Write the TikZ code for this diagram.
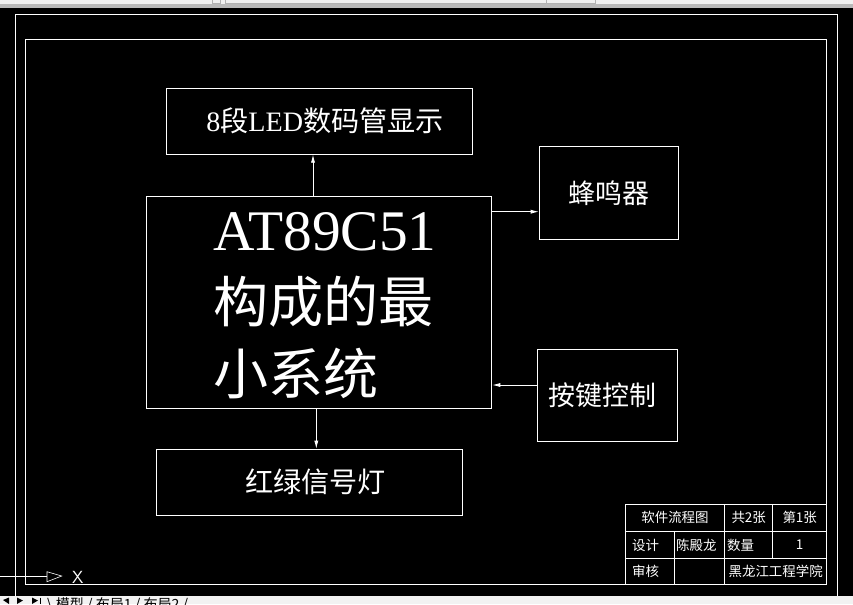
\documentclass[tikz,border=0pt]{standalone}
\usepackage{fontspec}
\setmainfont{Liberation Serif}
\newfontfamily\cjk{Noto Sans CJK SC}
\usetikzlibrary{arrows.meta,calc}
\newcommand\pxu{0.03cm}
\tikzset{
  cadline/.style={draw=white,line width=0.75pt},
  blockbox/.style={cadline,rectangle,inner sep=0pt,text=white,font=\fontsize{23}{27}\selectfont},
  arr/.style={white,line width=0.75pt,-{Latex[length=7pt,width=3.5pt]}},
  cell/.style={text=white,inner sep=0pt,font=\cjk\fontsize{11.5}{13}\selectfont}
}
\begin{document}
\begin{tikzpicture}[x=0.03cm,y=-0.03cm]
\useasboundingbox (0,0) rectangle (853,604);
\fill[black] (0,0) rectangle (853,604);
% drawing frames
\draw[cadline] (15.3,14.7) rectangle (837.3,600);
\draw[cadline] (25.5,39.4) rectangle (826.8,584.5);
% blocks
\node[blockbox,font=\fontsize{24}{27}\selectfont,minimum width=306*\pxu,minimum height=65.7*\pxu] (led) at (319.7,121.2) {\hspace*{9pt}8{\cjk 段}LED{\cjk 数码管显示}};
\node[blockbox,minimum width=345*\pxu,minimum height=212*\pxu] (main) at (319.2,302) {};
\node[text=white,anchor=base west,align=left,text width=260*\pxu,inner sep=0pt,font=\fontsize{47}{61.5}\selectfont] (mainlabel) at (213,250.7) {{\fontsize{49}{61.5}\selectfont AT89C51}\\{\cjk 构成的最}\\{\cjk 小系统}};
\node[blockbox,minimum width=139.4*\pxu,minimum height=93.3*\pxu] (buzz) at (609,192.7) {\cjk 蜂鸣器};
\node[blockbox,minimum width=140.4*\pxu,minimum height=91.7*\pxu] (keys) at (607.5,395.2) {\cjk 按键控制\hspace*{8pt}};
\node[blockbox,font=\fontsize{24}{27}\selectfont,minimum width=306*\pxu,minimum height=65.7*\pxu] (light) at (309.7,482.2) {\hspace*{10pt}\cjk 红绿信号灯};
% connectors
\coordinate (ledx) at (313,0);
\coordinate (buzzy) at (0,211.7);
\coordinate (keyy) at (0,385);
\coordinate (lightx) at (316.3,0);
\draw[arr] (main.north -| ledx) -- (led.south -| ledx);
\draw[arr] (main.east |- buzzy) -- (buzz.west |- buzzy);
\draw[arr] (keys.west |- keyy) -- (main.east |- keyy);
\draw[arr] (main.south -| lightx) -- (light.north -| lightx);
% title block
\draw[cadline] (625.3,584.5) -- (625.3,504.3) -- (826.8,504.3);
\draw[cadline] (625.3,531.3) -- (826.8,531.3) (625.3,558.6) -- (826.8,558.6);
\draw[cadline] (674,531.3) -- (674,584.5) (724.7,504.3) -- (724.7,584.5) (772.7,504.3) -- (772.7,558.6);
\node[cell] (title) at (675,517.8) {软件流程图};
\node[cell] (sheets) at (748.7,517.8) {共2张};
\node[cell] (sheetno) at (799.7,517.8) {第1张};
\node[cell,anchor=west] (design) at (632,545) {设计};
\node[cell,anchor=west] (designer) at (676,545) {陈殿龙};
\node[cell,anchor=west] (qty) at (727,545) {数量};
\node[cell] (qtyval) at (799.7,545) {1};
\node[cell,anchor=west] (check) at (632,571.6) {审核};
\node[cell] (school) at (775.7,571.6) {黑龙江工程学院};
% ucs icon
\draw[white,line width=0.6pt] (0,576) -- (47,576);
\draw[white,line width=0.5pt] (47,571.7) -- (61.7,576) -- (47,581.7) -- cycle;
\node[text=white,font=\sffamily\fontsize{15}{15}\selectfont,inner sep=0pt] (ucsx) at (77.7,577) {X};
% window bars
\fill[gray!12] (0,0) rectangle (853,4);
\fill[gray!55] (0,4) rectangle (853,7.5);
\draw[gray!60,line width=0.3pt] (212,-1) rectangle (220,3.5) (225,-1) rectangle (546,3.5) (546,-1) rectangle (595,3.5);
\fill[gray!10] (0,596) rectangle (853,604);
\fill[black] (3,600) -- (9,597.5) -- (9,604) -- cycle (17,597.5) -- (23,600.5) -- (17,604) -- cycle (32,597.5) -- (38,600.5) -- (32,604) -- cycle;
\draw[black,line width=0.5pt] (40,597.5) -- (40,604);
\begin{scope}
\clip (0,596) rectangle (853,604);
\node[font=\cjk\fontsize{12}{12}\selectfont,anchor=north west,inner sep=0pt] (tabs) at (47,597) {\textbackslash\ 模型 / 布局1 / 布局2 /};
\end{scope}
\end{tikzpicture}
\end{document}
